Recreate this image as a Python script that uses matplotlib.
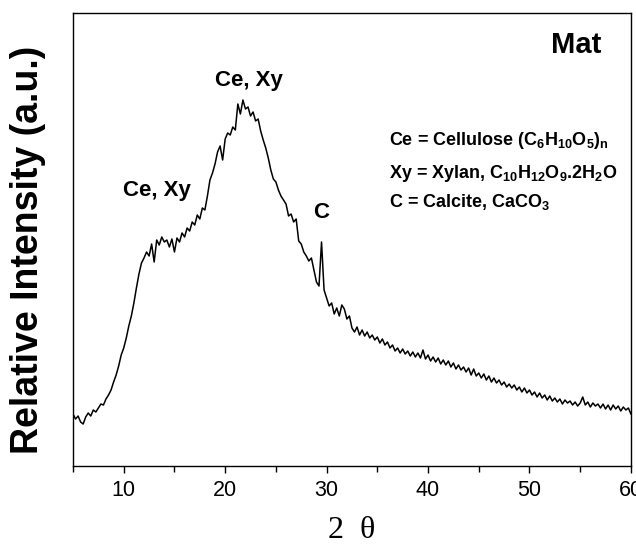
import numpy as np
import matplotlib
matplotlib.use("Agg")
import matplotlib.pyplot as plt
from matplotlib.ticker import MultipleLocator

plt.rcParams['font.family'] = ['Liberation Sans', 'DejaVu Sans']
plt.rcParams['mathtext.fontset'] = 'custom'
plt.rcParams['mathtext.rm'] = 'Liberation Sans:bold'
plt.rcParams['mathtext.bf'] = 'Liberation Sans:bold'
plt.rcParams['mathtext.it'] = 'Liberation Sans:bold'

# 2-theta grid (degrees), step 0.25
two_theta = np.arange(5.0, 60.001, 0.25)

# Relative intensity (a.u.)
intensity = [
    52, 47, 50, 44, 42, 49, 53, 50, 56, 54, 58, 62, 61, 67, 71, 76, 84, 91, 100, 111,
    118, 128, 140, 150, 163, 178, 192, 203, 208, 214, 210, 222, 204, 226, 221, 229, 224, 226, 219, 227,
    214, 228, 224, 233, 229, 238, 235, 244, 241, 251, 247, 258, 256, 270, 286, 293, 302, 314, 320, 306,
    327, 333, 331, 339, 336, 362, 352, 366, 357, 359, 350, 354, 345, 347, 335, 326, 318, 308, 296, 287,
    284, 276, 270, 266, 262, 250, 252, 244, 247, 225, 222, 214, 210, 205, 208, 196, 184, 180, 224, 176,
    168, 160, 163, 152, 158, 150, 161, 157, 147, 150, 138, 134, 139, 131, 136, 130, 134, 128, 131, 126,
    129, 123, 127, 121, 124, 118, 121, 115, 118, 113, 117, 112, 115, 110, 114, 109, 113, 108, 116, 107,
    111, 105, 109, 104, 108, 102, 106, 101, 105, 99, 103, 97, 101, 96, 99, 94, 98, 91, 97, 90,
    93, 88, 92, 86, 90, 84, 88, 83, 86, 81, 84, 79, 82, 78, 81, 76, 79, 74, 78, 73,
    76, 71, 74, 69, 73, 68, 71, 66, 70, 65, 68, 64, 67, 62, 66, 63, 65, 61, 64, 60,
    63, 69, 61, 64, 59, 63, 60, 62, 58, 62, 57, 61, 56, 61, 57, 60, 55, 59, 56, 58,
    52,
]

peak_labels = ["Ce, Xy", "Ce, Xy", "C"]
peak_label_pos = [(22.35, 385), (13.3, 275), (29.5, 253)]
legend_lines = [
    r"Ce = Cellulose (C$_6$H$_{10}$O$_5$)$_n$",
    r"Xy = Xylan, C$_{10}$H$_{12}$O$_9$.2H$_2$O",
    r"C = Calcite, CaCO$_3$",
]
legend_y = [321, 288, 259]

fig = plt.figure(figsize=(6.36, 5.5), dpi=100)
ax = fig.add_axes([0.1148, 0.1527, 0.992 - 0.1148, 0.9764 - 0.1527])

ax.plot(two_theta, intensity, color='black', lw=1.1)

ax.set_xlim(5, 60)
ax.set_ylim(0, 453)
ax.xaxis.set_major_locator(MultipleLocator(10))
ax.xaxis.set_minor_locator(MultipleLocator(5))
ax.tick_params(axis='x', which='major', direction='out', length=5, width=1.0,
               labelsize=15.5, pad=5)
ax.tick_params(axis='x', which='minor', direction='out', length=4, width=1.0)
ax.set_yticks([])
for s in ax.spines.values():
    s.set_linewidth(1.0)

for lab, (x, y) in zip(peak_labels, peak_label_pos):
    ax.text(x, y, lab, ha='center', va='center', fontsize=16, fontweight='bold')

for line, y in zip(legend_lines, legend_y):
    ax.text(36.15, y, line, ha='left', va='baseline', fontsize=13, fontweight='bold')

ax.text(54.6, 421, "Mat", ha='center', va='center', fontsize=21, fontweight='bold')

fig.text(28 / 636, 1 - 249.5 / 550, "Relative Intensity (a.u.)", rotation=90,
         ha='center', va='center', fontsize=27, fontweight='bold')
fig.text(352 / 636, 1 - 530 / 550, "2  θ", ha='center', va='center',
         fontsize=23, family=['Liberation Serif', 'DejaVu Serif'])

fig.savefig("out.png", dpi=100)
